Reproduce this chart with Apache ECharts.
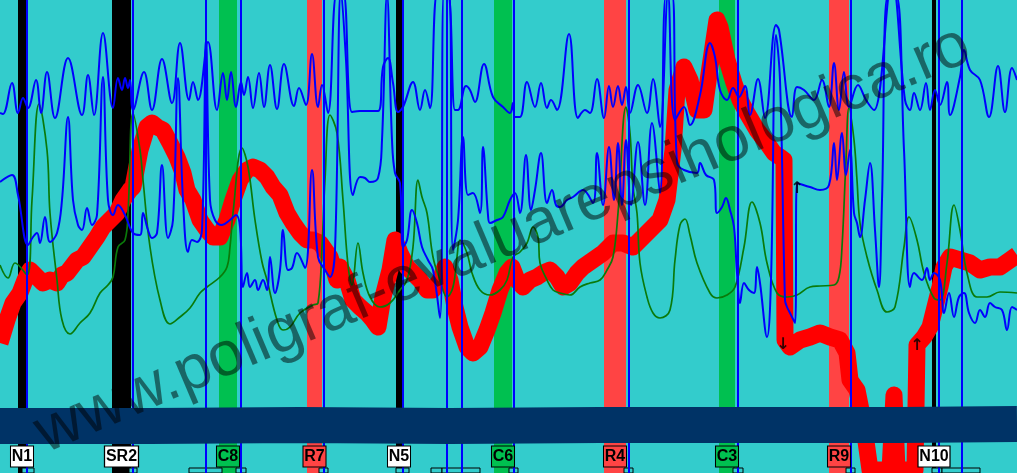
<!DOCTYPE html>
<html lang="en">
<head>
    <meta charset="UTF-8">
    <title>poligraf</title>
    <script src="https://cdn.jsdelivr.net/npm/echarts@6/dist/echarts.min.js"></script>
</head>
<style>
    html, body { margin: 0; padding: 0; }
    #main { width: 1017px; height: 473px; }
</style>
<body>
<div id="main"></div>
<script>
    // question markers: name, start, end (time units = samples on chart)
    var eventNames = ['N1', 'SR2', 'C8', 'R7', 'N5', 'C6', 'R4', 'C3', 'R9', 'N10'];
    var eventStart = [18, 112, 219, 307, 396, 494, 604, 719, 829, 932];
    var eventEnd   = [26, 131, 237, 322, 402, 512, 626, 735, 849, 936];

    // thin blue marker lines
    var markerLines = [27, 133, 206, 241, 324, 403, 447, 462, 514, 629, 738, 851, 939, 962];

    // small boxes along the bottom edge
    var footBoxes = [[22, 34], [129, 137], [189, 222], [236, 246], [319, 328], [396, 409], [431, 442], [442, 480],
        [509, 518], [624, 633], [733, 743], [846, 855], [932, 942], [942, 980]];

    // upper pneumo
    var thoracic = [[0,113],[3,114],[12,83],[18,113],[23,98],[28,108],[36,80],[41,113],[47,72],[55,118],[68,58],[82,115],
        [88,75],[94,115],[103,33],[113,108],[118,78],[122,90],[125,78],[128,88],[130,80],[133,110],[144,72],[152,110],
        [162,59],[172,103],[180,43],[189,100],[193,82],[198,100],[208,42],[217,110],[223,73],[227,100],[231,72],[236,107],
        [241,82],[244,95],[248,77],[253,108],[259,73],[264,107],[270,65],[277,109],[284,64],[294,106],[299,88],[306,105],
        [312,54],[318,107],[322,85],[328,113],[337,-8],[343,-8],[352,112],[360,111],[378,111],[383,67],[388,58],[393,83],
        [398,112],[403,107],[413,82],[420,110],[425,90],[430,108],[438,-10],[447,-10],[455,110],[458,110],[466,86],[470,90],
        [475,102],[484,64],[493,97],[503,107],[510,113],[513,103],[515,117],[520,117],[527,82],[535,107],[541,83],[547,108],
        [551,100],[557,110],[569,34],[578,118],[585,110],[590,113],[597,79],[604,118],[609,86],[613,107],[618,86],[622,105],
        [626,87],[630,113],[638,85],[647,113],[653,79],[660,127],[668,-5],[675,120],[684,107],[690,125],[700,95],[710,43],
        [715,57],[720,90],[727,100],[733,88],[739,97],[745,86],[750,115],[758,79],[765,118],[776,25],[779,30],[792,117],
        [797,87],[804,90],[814,100],[822,80],[829,107],[834,63],[839,110],[844,72],[849,107],[858,85],[866,100],[874,110],
        [892,-20],[905,100],[910,110],[914,93],[920,110],[926,83],[930,110],[935,90],[940,105],[947,82],[950,115],[960,77],
        [964,50],[970,70],[980,80],[989,117],[998,66],[1005,112],[1012,68],[1017,80]];

    // lower pneumo
    var abdominal = [[0,182],[12,175],[18,195],[28,245],[33,237],[37,233],[40,243],[45,217],[50,242],[57,233],[62,200],
        [68,117],[73,200],[78,225],[82,230],[87,208],[92,225],[97,215],[103,77],[108,200],[113,215],[118,205],[125,215],
        [133,233],[140,235],[143,213],[148,230],[152,238],[157,233],[162,165],[168,238],[173,220],[178,78],[183,200],
        [188,252],[192,240],[197,242],[202,230],[206,40],[210,200],[215,220],[222,225],[230,220],[236,215],[240,227],
        [243,287],[247,273],[250,287],[255,280],[258,290],[263,280],[267,290],[270,257],[275,293],[280,270],[283,230],
        [288,270],[292,268],[297,253],[305,268],[312,170],[318,257],[325,270],[330,277],[335,250],[341,-10],[346,60],
        [353,195],[360,177],[365,178],[370,182],[378,178],[382,140],[387,-5],[392,140],[395,173],[400,183],[403,247],
        [407,240],[412,210],[417,223],[422,247],[428,260],[433,270],[440,318],[444,-10],[449,-10],[453,250],[458,220],
        [463,137],[468,195],[473,193],[480,213],[483,147],[488,215],[490,223],[497,220],[503,217],[510,200],[515,193],
        [520,213],[526,155],[531,210],[535,190],[541,153],[547,203],[552,190],[556,205],[560,207],[567,200],[573,197],
        [583,190],[593,203],[597,153],[603,205],[609,147],[614,200],[618,143],[622,205],[626,140],[631,205],[638,142],
        [645,205],[652,123],[660,193],[666,-5],[672,-5],[677,163],[684,170],[697,173],[700,163],[706,175],[714,180],
        [717,213],[722,207],[726,198],[730,210],[734,227],[737,273],[740,303],[744,283],[749,290],[754,293],[757,267],
        [760,283],[767,337],[771,280],[776,35],[780,80],[785,300],[787,307],[790,313],[795,323],[797,183],[810,187],
        [820,190],[829,185],[834,143],[837,180],[842,133],[846,175],[850,150],[854,213],[857,223],[860,237],[865,200],
        [870,163],[875,230],[879,287],[882,200],[888,-5],[896,-5],[904,150],[910,287],[914,273],[922,280],[927,268],
        [930,280],[934,273],[940,280],[944,313],[949,293],[954,317],[959,297],[964,293],[969,313],[975,323],[980,310],
        [985,317],[990,303],[995,307],[1002,310],[1007,330],[1012,307],[1017,310]];

    // electrodermal
    var eda = [[0,265],[8,278],[15,263],[27,275],[32,200],[39,104],[47,150],[50,213],[57,280],[62,320],[70,334],[80,323],
        [90,313],[100,293],[108,285],[113,277],[118,247],[125,240],[128,213],[133,113],[140,150],[143,180],[150,247],
        [160,300],[170,324],[180,317],[190,308],[200,293],[207,287],[220,277],[227,267],[230,247],[233,213],[242,148],
        [248,167],[255,220],[262,262],[267,280],[277,320],[283,330],[290,327],[300,313],[313,305],[318,303],[322,247],
        [325,180],[330,115],[337,133],[343,200],[348,265],[352,285],[358,243],[363,273],[370,297],[380,307],[390,303],
        [400,290],[407,280],[413,247],[418,180],[422,197],[427,213],[433,257],[440,280],[447,297],[453,287],[457,257],
        [460,240],[467,253],[472,273],[480,290],[490,295],[500,290],[507,280],[513,257],[520,252],[527,243],[533,227],
        [538,237],[540,263],[547,280],[553,290],[560,293],[570,295],[580,287],[590,283],[600,280],[607,270],[613,257],
        [618,213],[626,107],[630,133],[633,187],[637,213],[640,263],[647,297],[653,313],[660,318],[670,310],[675,260],
        [680,225],[685,219],[690,235],[697,263],[710,293],[717,298],[727,295],[735,287],[744,247],[752,202],[760,223],
        [767,263],[777,293],[787,297],[797,295],[810,287],[820,286],[834,285],[839,277],[842,247],[846,160],[849,108],
        [854,140],[857,180],[860,223],[867,257],[877,290],[887,312],[895,307],[904,247],[909,217],[917,240],[924,273],
        [934,298],[940,300],[947,263],[954,205],[960,230],[967,273],[977,297],[987,297],[1000,292],[1017,293]];

    // cardio
    var cardio = [[0,343],[7,320],[13,303],[20,293],[25,280],[30,270],[37,277],[43,283],[50,280],[57,283],[62,275],
        [67,273],[77,260],[83,257],[90,247],[97,237],[103,227],[110,220],[117,213],[123,200],[130,190],[133,187],
        [140,150],[147,127],[152,123],[157,127],[163,130],[170,143],[177,157],[183,173],[187,190],[193,200],[200,220],
        [207,230],[213,237],[220,237],[227,220],[233,200],[240,180],[247,170],[253,167],[260,170],[267,177],[273,187],
        [280,195],[287,213],[293,223],[300,233],[307,240],[313,240],[320,243],[330,257],[337,280],[340,267],[347,280],
        [353,300],[360,307],[367,313],[373,320],[378,327],[383,297],[390,270],[395,240],[400,253],[407,267],[413,273],
        [420,280],[427,290],[433,290],[440,280],[445,267],[450,280],[455,307],[460,327],[467,347],[473,353],[480,347],
        [487,330],[493,313],[500,290],[507,273],[512,267],[517,280],[523,287],[530,280],[537,277],[543,273],[550,270],
        [557,277],[563,287],[570,283],[577,273],[583,267],[593,260],[603,253],[613,243],[623,243],[633,247],[640,240],
        [650,230],[660,220],[667,200],[673,150],[677,90],[684,67],[690,80],[697,110],[704,110],[710,67],[717,20],
        [720,27],[727,60],[734,83],[740,100],[747,113],[757,130],[767,143],[774,153],[780,157],[784,160],[785,340],
        [790,347],[800,340],[810,337],[820,333],[830,337],[840,340],[847,353],[850,380],[857,390],[863,420],[870,470],
        [880,470],[890,470],[894,395],[897,470],[907,470],[915,470],[917,345],[924,337],[930,327],[935,307],[940,287],
        [944,267],[950,257],[960,260],[970,263],[980,270],[990,267],[1000,267],[1010,260],[1017,255]];

    // plethysmograph strip
    var pleth = [[0,426],[150,426],[300,425],[450,426],[600,425],[750,425],[900,425],[1017,424]];

    // small arrows
    var arrows = [[797, 189, '↑'], [783, 345, '↓'], [917, 346, '↑']];

    var labelFont = 'bold 16px "Liberation Sans"';
    var measure = document.createElement('canvas').getContext('2d');
    measure.font = labelFont;

    var bandColor = function (name) {
        if (name[0] == 'C') return '#00c050';
        if (name[0] == 'R') return '#ff4444';
        return '#000000';
    };
    var labelColor = function (name) {
        if (name[0] == 'C') return '#00c050';
        if (name[0] == 'R') return '#ff4444';
        return '#ffffff';
    };

    var bandAreas = [];
    var labelData = [];
    for (var i = 0; i < eventNames.length; i++) {
        bandAreas.push([{xAxis: eventStart[i], itemStyle: {color: bandColor(eventNames[i])}}, {xAxis: eventEnd[i]}]);
        labelData.push({
            value: [(eventStart[i] + eventEnd[i]) / 2, 456.5],
            name: eventNames[i],
            symbolSize: [Math.round(measure.measureText(eventNames[i]).width) + 3, 21],
            itemStyle: {color: labelColor(eventNames[i])}
        });
    }
    var lineMarks = [];
    for (var i = 0; i < markerLines.length; i++) lineMarks.push({xAxis: markerLines[i]});
    var boxAreas = [];
    for (var i = 0; i < footBoxes.length; i++) {
        boxAreas.push([{xAxis: footBoxes[i][0], yAxis: 468}, {xAxis: footBoxes[i][1], yAxis: 480}]);
    }

    var myChart = echarts.init(document.getElementById('main'));
    var option = {
        animation: false,
        backgroundColor: '#33cccc',
        grid: {left: 0, right: 0, top: 0, bottom: 0},
        xAxis: {type: 'value', min: 0, max: 1017, show: false},
        yAxis: {type: 'value', min: 0, max: 473, inverse: true, show: false},
        series: [
            {
                name: 'bands', type: 'line', data: [], z: 1, silent: true,
                markArea: {silent: true, data: bandAreas},
                markLine: {
                    silent: true, symbol: ['none', 'none'], label: {show: false},
                    lineStyle: {color: '#0000ff', width: 2, type: 'solid'},
                    data: lineMarks
                }
            },
            {
                name: 'cardio', type: 'line', data: cardio, z: 3, showSymbol: false,
                lineStyle: {color: '#ff0000', width: 17, join: 'round'}
            },
            {
                name: 'eda', type: 'line', data: eda, z: 4, showSymbol: false, smooth: 0.4,
                lineStyle: {color: '#0a7a0a', width: 1.7}
            },
            {
                name: 'abdominal', type: 'line', data: abdominal, z: 5, showSymbol: false, smooth: 0.4,
                lineStyle: {color: '#0000ff', width: 2}
            },
            {
                name: 'thoracic', type: 'line', data: thoracic, z: 5, showSymbol: false, smooth: 0.4,
                lineStyle: {color: '#0000ff', width: 2}
            },
            {
                name: 'pleth', type: 'line', data: pleth, z: 6, showSymbol: false,
                lineStyle: {color: '#003366', width: 36}
            },
            {
                name: 'boxes', type: 'line', data: [], z: 7, silent: true,
                markArea: {
                    silent: true,
                    itemStyle: {color: '#33cccc', borderColor: '#000', borderWidth: 1, opacity: 1},
                    data: boxAreas
                }
            },
            {
                name: 'labels', type: 'scatter', data: labelData, z: 8, symbol: 'rect', silent: true,
                itemStyle: {borderColor: '#000', borderWidth: 1, opacity: 1},
                label: {
                    show: true, position: 'inside', formatter: '{b}',
                    fontFamily: 'Liberation Sans', fontSize: 16, fontWeight: 'bold', color: '#000',
                    textBorderWidth: 0
                }
            },
            {
                name: 'arrows', type: 'scatter', z: 8, symbolSize: 1, silent: true,
                data: arrows.map(function (a) { return {value: [a[0], a[1]], name: a[2]}; }),
                itemStyle: {color: 'transparent'},
                label: {
                    show: true, position: 'inside', formatter: '{b}',
                    fontFamily: 'DejaVu Sans', fontSize: 16, fontWeight: 'bold', color: '#000',
                    textBorderWidth: 0
                }
            }
        ],
        graphic: [{
            type: 'text', x: 503, y: 240, rotation: 23 * Math.PI / 180, z: 100, silent: true,
            style: {
                text: 'www.poligraf-evaluarepsihologica.ro',
                font: 'normal 63px "Liberation Sans"',
                fill: 'rgba(0,0,0,0.5)',
                align: 'center', verticalAlign: 'middle'
            }
        }]
    };
    myChart.setOption(option);
</script>
</body>
</html>
